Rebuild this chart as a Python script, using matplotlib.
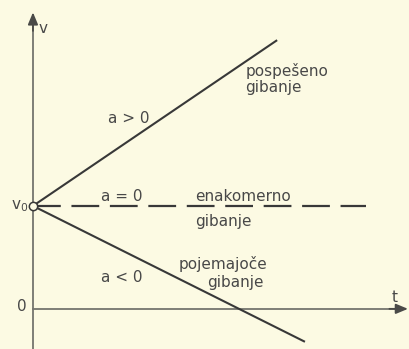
import matplotlib
matplotlib.use("Agg")
import matplotlib.pyplot as plt

# ---------------------------------------------------------
# data (v in units of v0, t in matching units)
# ---------------------------------------------------------
v0 = 1.0

t_pos = [0.0, 2.37]      # a > 0, pospeseno gibanje
v_pos = [1.0, 2.61]

t_zero = [0.0, 3.23]     # a = 0, enakomerno gibanje
v_zero = [1.0, 1.0]

t_neg = [0.0, 2.64]      # a < 0, pojemajoce gibanje
v_neg = [1.0, -0.32]

bg = "#fcfae3"
ink = "#383838"
axis_col = "#74746e"
head_col = "#4a4a48"
txt = "#484848"

fig = plt.figure(figsize=(4.09, 3.49), dpi=100, facecolor=bg)
ax = fig.add_axes([0, 0, 1, 1], facecolor=bg)
ax.set_xlim(-0.32, 3.65)
ax.set_ylim(-0.39, 3.0)
ax.axis("off")

# axes: gray shafts, darker arrow heads
ax.plot([0, 0], [-0.40, 2.80], color=axis_col, lw=1.3, clip_on=False)
ax.plot([0, 3.56], [0, 0], color=axis_col, lw=1.3, clip_on=False)
head = dict(arrowstyle="-|>,head_length=0.6,head_width=0.25",
            lw=1.3, color=head_col, mutation_scale=12, shrinkA=0, shrinkB=0)
ax.annotate("", xy=(0, 2.88), xytext=(0, 2.70), arrowprops=head,
            annotation_clip=False)
ax.annotate("", xy=(3.64, 0), xytext=(3.46, 0), arrowprops=head,
            annotation_clip=False)

# the three lines
ax.plot(t_pos, v_pos, color=ink, lw=1.5, solid_capstyle="butt")
ax.plot(t_neg, v_neg, color=ink, lw=1.5, solid_capstyle="butt")
ax.plot(t_zero, v_zero, color=ink, lw=1.6, dashes=(12.5, 4.8))
ax.plot([0], [v0], "o", ms=6, mfc=bg, mec=ink, mew=1.1, zorder=5)

# labels
fs = 11
ax.text(0.097, 2.72, "v", fontsize=fs, color=txt, ha="center", va="center")
ax.text(3.51, 0.11, "t", fontsize=fs, color=txt, ha="center", va="center")
ax.text(-0.107, 0.02, "0", fontsize=fs, color=txt, ha="center", va="center")
ax.text(-0.05, 1.0, "v$_0$", fontsize=fs, color=txt, ha="right", va="center")

ax.text(0.93, 1.85, "a > 0", fontsize=fs, color=txt, ha="center", va="center")
ax.text(0.864, 1.087, "a = 0", fontsize=fs, color=txt, ha="center", va="center")
ax.text(0.864, 0.30, "a < 0", fontsize=fs, color=txt, ha="center", va="center")

ax.text(2.06, 2.31, "pospešeno", fontsize=fs, color=txt, ha="left", va="center")
ax.text(2.06, 2.15, "gibanje", fontsize=fs, color=txt, ha="left", va="center")
ax.text(1.573, 1.087, "enakomerno", fontsize=fs, color=txt, ha="left", va="center")
ax.text(1.573, 0.845, "gibanje", fontsize=fs, color=txt, ha="left", va="center")
ax.text(1.41, 0.437, "pojemajoče", fontsize=fs, color=txt, ha="left", va="center")
ax.text(1.69, 0.252, "gibanje", fontsize=fs, color=txt, ha="left", va="center")

fig.savefig("out.png", dpi=100, facecolor=bg)
